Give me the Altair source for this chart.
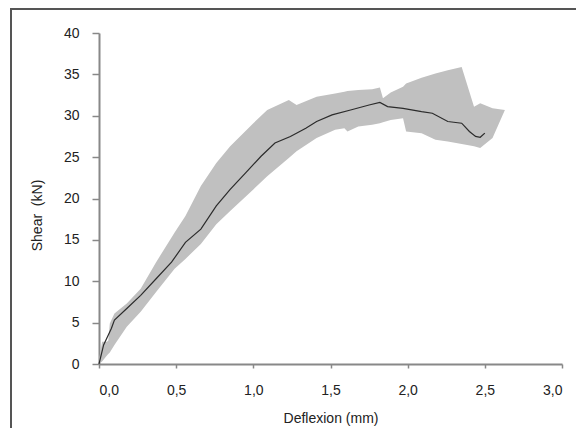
import altair as alt
import pandas as pd

# Mean curve (Deflexion mm, Shear kN)
mean_x = [0.0, 0.03, 0.08, 0.10, 0.18, 0.27, 0.37, 0.47, 0.56, 0.66, 0.76, 0.85, 0.95,
          1.05, 1.14, 1.24, 1.34, 1.41, 1.51, 1.63, 1.75, 1.82, 1.87, 1.97, 2.09, 2.16,
          2.26, 2.35, 2.40, 2.44, 2.47, 2.50]
mean_y = [0.0, 2.3, 4.3, 5.3, 6.7, 8.3, 10.3, 12.3, 14.7, 16.3, 19.1, 21.1, 23.1,
          25.1, 26.7, 27.5, 28.5, 29.3, 30.1, 30.7, 31.3, 31.6, 31.1, 30.9, 30.5, 30.3,
          29.3, 29.1, 28.1, 27.5, 27.4, 27.9]

# Envelope (min / max of tests)
band_x = [0.0, 0.02, 0.05, 0.06, 0.07, 0.10, 0.18, 0.27, 0.37, 0.49, 0.56, 0.66, 0.76,
          0.85, 1.00, 1.09, 1.23, 1.28, 1.41, 1.53, 1.59, 1.61, 1.68, 1.77, 1.82, 1.84,
          1.89, 1.97, 1.99, 2.09, 2.18, 2.26, 2.35, 2.43, 2.47, 2.55, 2.63]
band_lo = [0.0, 0.3, 1.0, 1.2, 1.4, 2.3, 4.5, 6.3, 8.7, 11.5, 12.7, 14.5, 16.9,
           18.5, 21.1, 22.7, 24.9, 25.7, 27.3, 28.3, 28.5, 28.1, 28.7, 28.9, 29.1, 29.2,
           29.5, 29.7, 28.1, 27.9, 27.1, 26.9, 26.6, 26.3, 26.1, 27.3, 30.7]
band_hi = [0.5, 2.7, 2.7, 2.8, 4.9, 6.1, 7.3, 9.1, 12.3, 15.9, 17.9, 21.5, 24.3,
           26.3, 29.1, 30.7, 31.9, 31.3, 32.3, 32.7, 32.9, 33.0, 33.1, 33.2, 33.4, 32.1,
           32.8, 33.5, 33.9, 34.6, 35.1, 35.5, 35.9, 31.1, 31.5, 30.9, 30.7]

x_ticks = [0.0, 0.5, 1.0, 1.5, 2.0, 2.5, 3.0]
y_ticks = [0, 5, 10, 15, 20, 25, 30, 35, 40]

mean_df = pd.DataFrame({"x": mean_x, "y": mean_y})
band_df = pd.DataFrame({"x": band_x, "lo": band_lo, "hi": band_hi})

FONT = "Liberation Sans"

xscale = alt.Scale(domain=[0, 3], nice=False, zero=False)
yscale = alt.Scale(domain=[0, 40], nice=False)

xaxis = alt.Axis(values=x_ticks, grid=False, title="Deflexion (mm)",
                 labelExpr="replace(format(datum.value, '.1f'), '.', ',')",
                 tickSize=4, labelPadding=15, titleY=54, titleBaseline="middle")
yaxis = alt.Axis(values=y_ticks, grid=False, title="Shear\u00a0 (kN)",
                 tickSize=7, labelPadding=13, titleX=-62, titleY=182,
                 titleBaseline="middle", titleAlign="center")

band = alt.Chart(band_df).mark_area(color="#c0c0c0", opacity=1).encode(
    x=alt.X("x:Q", scale=xscale, axis=xaxis),
    y=alt.Y("lo:Q", scale=yscale, axis=yaxis),
    y2="hi:Q",
)

line = alt.Chart(mean_df).mark_line(color="#2b2b2b", strokeWidth=1.2).encode(
    x=alt.X("x:Q", scale=xscale),
    y=alt.Y("y:Q", scale=yscale),
)

frame_h = alt.Chart(pd.DataFrame({"a": [0]})).mark_rule(
    color="#555555", strokeWidth=2
).encode(x=alt.value(-88), x2=alt.value(480), y=alt.value(-24))

frame_v = alt.Chart(pd.DataFrame({"a": [0]})).mark_rule(
    color="#555555", strokeWidth=2
).encode(x=alt.value(-88), y=alt.value(-25), y2=alt.value(400))

chart = alt.layer(band, line, frame_h, frame_v).properties(
    width=463, height=331,
    autosize=alt.AutoSizeParams(type="none"),
    padding={"left": 91, "top": 25, "right": 14, "bottom": 64},
).configure_view(stroke=None).configure_axis(
    labelFont=FONT, titleFont=FONT, labelFontSize=14, titleFontSize=14,
    titleFontWeight="normal", labelColor="#222222", titleColor="#222222",
    domainColor="#888888", domainWidth=2, tickColor="#888888", tickWidth=1.5,
)

chart.save("out.html", embed_options={"renderer": "svg", "actions": False})
